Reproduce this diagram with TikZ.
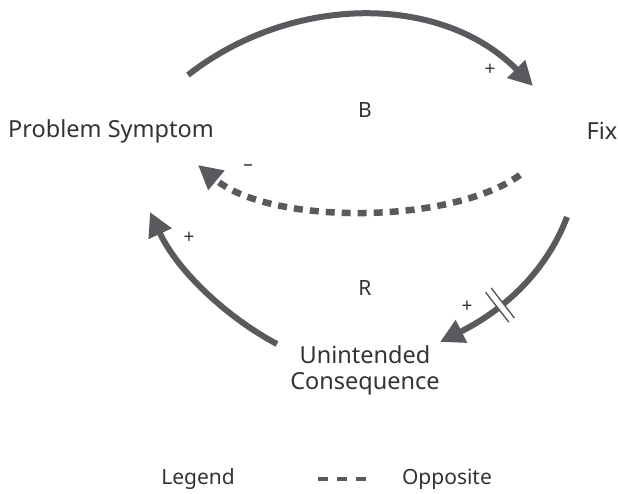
\documentclass[tikz,border=0pt]{standalone}
\usepackage{fontspec}
\setmainfont{Noto Sans}
\usepackage{tikz}
\usetikzlibrary{arrows.meta, positioning, calc}
\definecolor{linkgray}{HTML}{5A5A5E}
\definecolor{textdark}{HTML}{333333}
\tikzset{
  var/.style={font=\fontsize{23.5}{26}\selectfont, text=textdark, align=center, inner sep=0pt},
  loopname/.style={font=\fontsize{21}{24}\selectfont, text=textdark, inner sep=0pt},
  pol/.style={font=\fontsize{19}{22}\selectfont, text=textdark, inner sep=0pt},
  link/.style={draw=linkgray, line width=6pt, -{Triangle[length=24pt,width=24pt]}},
  link/opp/.style={draw=linkgray, line width=6.5pt, dash pattern=on 9pt off 7pt,
    -{Triangle[length=24pt,width=24pt]}},
  delay/.pic={
    \fill[white] (-3.5pt,-5pt) rectangle (3.5pt,5pt);
    \draw[linkgray, line width=1.4pt] (-3.5pt,-19pt) -- (-3.5pt,19pt)
                                      (3.5pt,-19pt) -- (3.5pt,19pt);},
  legendtxt/.style={font=\fontsize{21}{24}\selectfont, text=textdark, inner sep=0pt},
}

\begin{document}
\begin{tikzpicture}[x=1pt, y=-1pt]
\useasboundingbox (0,0) rectangle (618,493);

\node[var] (PS) at (111,131) {Problem Symptom};
\node[var] (Fix) at (602,131) {Fix};
\node[var] (UC) at (365,370) {Unintended\\Consequence};

\node[loopname] (B) at (365,110) {B};
\node[loopname] (R) at (365,288) {R};

% free ends of the links
\coordinate (psTop) at (188,75);
\coordinate (fixTop) at (533,86);
\coordinate (fixMid) at (520,175);
\coordinate (psMid) at (198,165);
\coordinate (fixLow) at (567,217);
\coordinate (ucRight) at (440,342);
\coordinate (ucLeft) at (277,344);
\coordinate (psLow) at (150,212);

\draw[link] (psTop) .. controls (290,-5) and (440,-8) .. (fixTop);
\node[pol] (p1) at (490,70) {+};

\draw[link/opp] (fixMid) .. controls (450,225) and (270,225) .. (psMid);
\node[pol] (p2) at (248,168) {--};

\draw[link] (fixLow) .. controls (545,275) and (500,312) .. (ucRight);
\path (fixLow) .. controls (545,275) and (500,312) .. pic[pos=0.63, sloped]{delay} (ucRight);
\node[pol] (p3) at (467,307) {+};

\draw[link] (ucLeft) .. controls (228,318) and (178,272) .. (psLow);
\node[pol] (p4) at (189,238) {+};

% legend
\node[legendtxt] (legend) at (198,479) {Legend};
\node[legendtxt] (opp) at (447,479) {Opposite};
\coordinate (lgA) at (318,479);
\coordinate (lgB) at (366,479);
\draw[linkgray, line width=4.5pt, dash pattern=on 10pt off 9pt] (lgA) -- (lgB);
\end{tikzpicture}
\end{document}
